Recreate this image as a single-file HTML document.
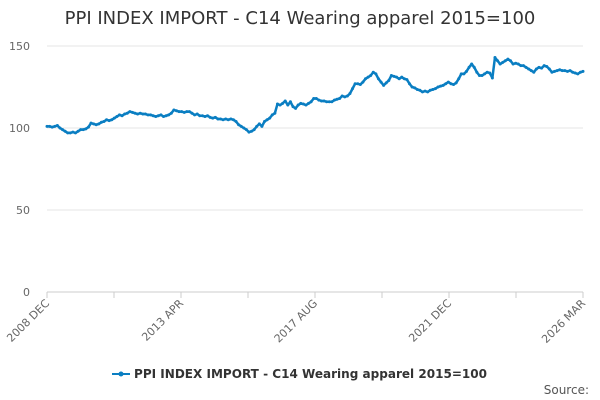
<!DOCTYPE html>
<html><head><meta charset="utf-8"><style>
body{margin:0;background:#fff;font-family:"DejaVu Sans","Liberation Sans",sans-serif}
</style></head><body>
<svg width="600" height="400" style="display:block;font-family:'DejaVu Sans','Liberation Sans',sans-serif">
<text x="300" y="24" text-anchor="middle" font-size="18" fill="#333">PPI INDEX IMPORT - C14 Wearing apparel 2015=100</text>
<g id="grid"></g>
<g id="xaxis"></g>
<g id="yaxis"></g>
<path id="line" fill="none" stroke="#0a7ec2" stroke-width="2.5" stroke-linejoin="round"/>
<g id="marks"></g>
<g>
<line x1="112" y1="374" x2="130" y2="374" stroke="#0a7ec2" stroke-width="2"/>
<circle cx="121" cy="374" r="2.5" fill="#0a7ec2"/>
<text x="134" y="378" font-size="12" font-weight="bold" fill="#333" textLength="353" lengthAdjust="spacingAndGlyphs">PPI INDEX IMPORT - C14 Wearing apparel 2015=100</text>
</g>
<text x="589" y="394" text-anchor="end" font-size="12" fill="#555">Source:</text>
</svg>
<script>
const values=[101,101,100.5,101,101.5,100,99,98,97,97,97.5,97,
98,99,99,99.5,100.5,103,102.5,102,102.5,103.5,104,105,
104.5,105,106,107,108,107.5,108.5,109,110,109.5,109,108.5,
109,108.5,108.5,108,108,107.5,107,107.5,108,107,107.5,108,
109,111,110.5,110,110,109.5,110,110,109,108,108.5,107.5,
107.5,107,107.5,106.5,106,106.5,105.5,105.5,105,105.5,105,105.5,
105,104,102,101,100,99,97.5,98,99,101,102.5,101,
104,105,106,108,109,114.6,114,115,116.5,114,116,113,
112,114,115,114.6,114,115,116,118,118,117,116.5,116.5,
116,116,116,117,117.5,118,119.5,119,119.5,121,124,127,
127,126.5,128,130,131,132,134,133,130,128,126,127.5,
129,132,131.5,131,130,131,130,129.5,127,125,124.5,123.5,
123,122,122.5,122,123,123.5,124,125,125.5,126,127,128,
127,126.5,127.5,130,133,133,134.5,137,139,137,134,132,
132,133,134,133.5,130.5,143,141,139,140,141,142,141,
139,139.5,139,138,138,137,136,135,134,136,137,136.5,
138,137.5,136,134,134.5,135,135.5,135,135,134.5,135,134,
133.5,133,134,134.5];
const yTicks=[0,50,100,150];
const xTickLabels=["2008 DEC","2013 APR","2017 AUG","2021 DEC","2026 MAR"];
const x0=47,x1=583,yTop=46,yBot=292,yMax=150;
const ns="http://www.w3.org/2000/svg";
const n=values.length;
const X=i=>x0+(x1-x0)*i/(n-1);
const Y=v=>yBot-(yBot-yTop)*v/yMax;
function mk(t,a,p){const e=document.createElementNS(ns,t);for(const k in a)e.setAttribute(k,a[k]);p.appendChild(e);return e;}
const grid=document.getElementById('grid'),ya=document.getElementById('yaxis'),xa=document.getElementById('xaxis');
yTicks.forEach(t=>{
 const l=mk('line',{x1:x0,x2:x1,y1:Y(t),y2:Y(t),stroke:t===0?'#ccc':'#e6e6e6','stroke-width':1},grid);
 
 
 const tx=mk('text',{x:30,y:Y(t)+4,'text-anchor':'end','font-size':11,fill:'#666'},ya);
 tx.textContent=t;
 
 
});
for(let k=0;k<=8;k++){
 const x=x0+(x1-x0)*k/8;
 const tk=mk('line',{x1:x,x2:x,y1:yBot,y2:yBot+6,stroke:'#ccc'},xa);
 
 
 if(k%2===0){
  const tx=mk('text',{x:x+3,y:yBot+12,'text-anchor':'end','font-size':11,fill:'#666',transform:`rotate(-45 ${x+3} ${yBot+12})`},xa);
  tx.textContent=xTickLabels[k/2];
  
  
 }
}
document.getElementById('line').setAttribute('d',values.map((v,i)=>(i?'L':'M')+X(i).toFixed(2)+' '+Y(v).toFixed(2)).join(''));
const marks=document.getElementById('marks');
values.forEach((v,i)=>{
 const c=mk('circle',{cx:X(i),cy:Y(v),r:1.5,fill:'#0a7ec2'},marks);
 
 
});
</script>
</body></html>
